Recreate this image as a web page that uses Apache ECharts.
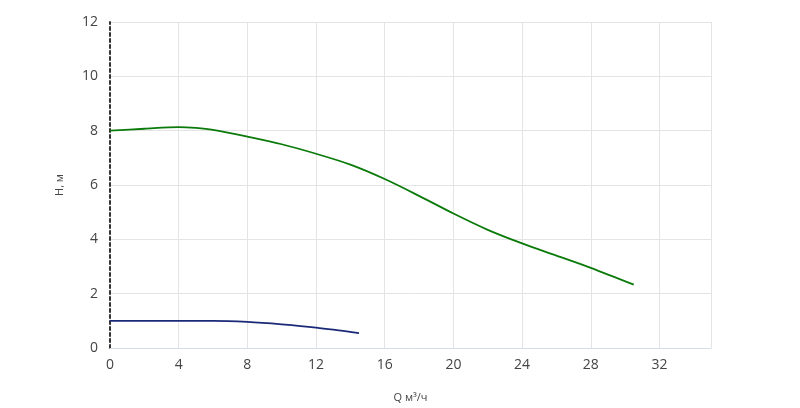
<!DOCTYPE html>
<html><head><meta charset="utf-8">
<script src="https://cdn.jsdelivr.net/npm/echarts@6/dist/echarts.min.js"></script>
<style>html,body{margin:0;padding:0;background:#fff}#c{width:800px;height:408px}</style>
</head><body><div id="c"></div>
<script>
const greenQ = [0,2,4,5,6,8,10,12,14,16,18,20,22,24,26,28,30.5];
const greenH = [8.0,8.07,8.13,8.1,8.03,7.78,7.5,7.15,6.75,6.22,5.6,4.95,4.35,3.85,3.4,2.95,2.33];
const blueQ = [0,4,6,8,10,12,14.5];
const blueH = [1.0,1.0,1.0,0.96,0.87,0.75,0.55];
const xTicks = [0,4,8,12,16,20,24,28,32];
const yTicks = [0,2,4,6,8,10,12];
const pair=(a,b)=>a.map((v,i)=>[v,b[i]]);
const font='"Open Sans", sans-serif';
echarts.init(document.getElementById('c')).setOption({
  animation:false,
  grid:{left:110,right:89,top:22,bottom:53},
  xAxis:{type:'value',min:0,max:35,interval:4,name:'Q м³/ч',nameLocation:'middle',nameGap:44,
    nameTextStyle:{fontSize:11,color:'#444',fontFamily:font},
    axisLine:{show:true,lineStyle:{color:'#d5dcec'}},axisTick:{show:false},
    axisLabel:{fontSize:14,color:'#444',fontFamily:font,margin:10,customValues:xTicks},
    splitLine:{lineStyle:{color:'#e4e4e4'}}},
  yAxis:{type:'value',min:0,max:12,interval:2,name:'H, м',nameLocation:'middle',nameGap:45,
    nameTextStyle:{fontSize:11,color:'#444',fontFamily:font},
    axisLine:{show:true,lineStyle:{color:'#333',width:2,type:[3,3]}},axisTick:{show:false},
    axisLabel:{fontSize:14,color:'#444',fontFamily:font,margin:12},
    splitLine:{lineStyle:{color:'#e4e4e4'}}},
  series:[
    {type:'line',data:pair(greenQ,greenH),smooth:0.3,symbol:'none',lineStyle:{color:'#0a7a0a',width:1.8}},
    {type:'line',data:pair(blueQ,blueH),smooth:0.3,symbol:'none',lineStyle:{color:'#1a2a78',width:1.8}}
  ]
});
</script></body></html>
